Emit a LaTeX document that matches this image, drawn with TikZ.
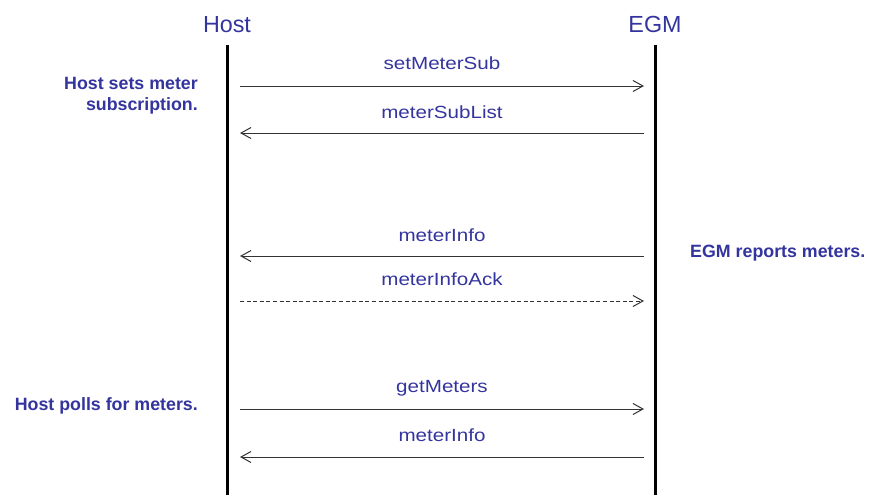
\documentclass[tikz,border=0pt]{standalone}
\usepackage{fontspec}
\setmainfont{Liberation Sans}
\newfontfamily\msgfont[FakeStretch=1.17]{Liberation Sans}
\usetikzlibrary{arrows.meta}
\definecolor{seqblue}{RGB}{52,52,158}
\tikzset{
  lifeline/.style={line width=3pt, black},
  msg/.style={line width=1pt, black!80, -{Straight Barb[length=10pt,width=11pt,line width=1pt]}},
  reply/.style={msg, dash pattern=on 4pt off 2.6pt},
  actor/.style={text=seqblue, font=\fontsize{23.3}{28}\selectfont, inner sep=0pt, anchor=base},
  msglabel/.style={text=seqblue, font=\msgfont\fontsize{17.6}{21}\selectfont, inner sep=0pt, anchor=base},
  note/.style={text=seqblue, font=\bfseries\fontsize{17.8}{21}\selectfont, inner sep=0pt, align=right}
}
\begin{document}
\begin{tikzpicture}[x=1pt,y=-1pt]
\useasboundingbox (0,0) rectangle (869,495);

% participants and their lifelines
\node[actor] (host) at (227,32.3) {Host};
\node[actor] (egm) at (655,32.3) {EGM};
\coordinate (hostTop) at (227,45);
\coordinate (hostBot) at (227,495);
\coordinate (egmTop) at (655,45);
\coordinate (egmBot) at (655,495);
\draw[lifeline] (hostTop) -- (hostBot);
\draw[lifeline] (egmTop) -- (egmBot);

% message end points on both lifelines
\foreach \n/\y in {1/86,2/133,3/256,4/301,5/409,6/457}{
  \coordinate (h\n) at (240,\y);
  \coordinate (e\n) at (644,\y);
}

% messages
\draw[msg] (h1) -- (e1);
\draw[msg] (e2) -- (h2);
\draw[msg] (e3) -- (h3);
\draw[reply] (h4) -- (e4);
\draw[msg] (h5) -- (e5);
\draw[msg] (e6) -- (h6);

\node[msglabel] (l1) at (442,69.5) {setMeterSub};
\node[msglabel] (l2) at (442,118.3) {meterSubList};
\node[msglabel] (l3) at (442,241.3) {meterInfo};
\node[msglabel] (l4) at (442,285.7) {meterInfoAck};
\node[msglabel] (l5) at (442,392.5) {getMeters};
\node[msglabel] (l6) at (442,441) {meterInfo};

% notes (the base anchor of a two-line note sits on its last line)
\node[note, anchor=base east] (n1) at (198,110.3) {Host sets meter\\subscription.};
\node[note, anchor=base west] (n2) at (690,257.3) {EGM reports meters.};
\node[note, anchor=base east] (n3) at (198,410.7) {Host polls for meters.};
\end{tikzpicture}
\end{document}
